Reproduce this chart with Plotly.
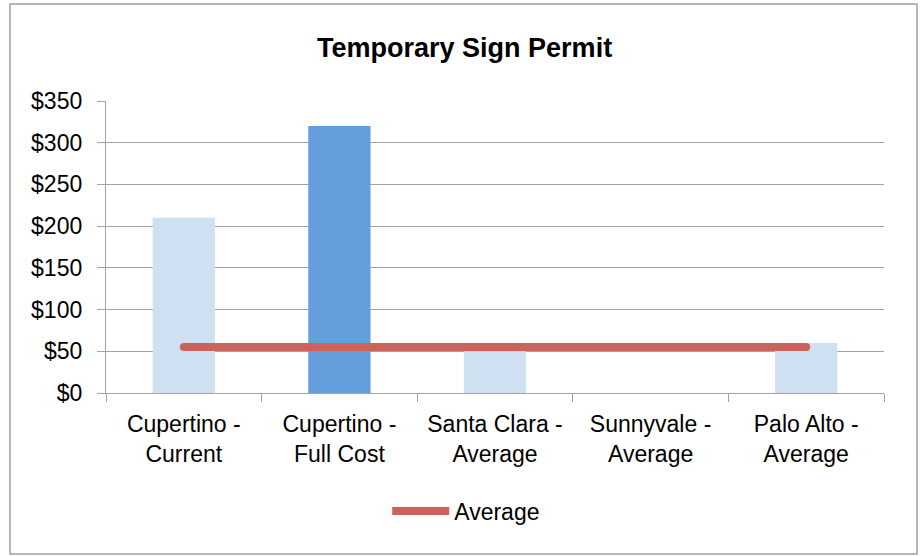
import plotly.graph_objects as go

# permit fees by jurisdiction
categories = [
    "Cupertino -<br>Current",
    "Cupertino -<br>Full Cost",
    "Santa Clara -<br>Average",
    "Sunnyvale -<br>Average",
    "Palo Alto -<br>Average",
]
fees = [210, 320, 50, 0, 60]
average = [55, 55, 55, 55, 55]
bar_colors = ["#CFE0F2", "#629FDC", "#CFE0F2", "#CFE0F2", "#CFE0F2"]

FONT = "Arial, Liberation Sans, sans-serif"
GRID = "#A3A3A3"

fig = go.Figure()

fig.add_trace(go.Bar(
    x=categories, y=fees, marker=dict(color=bar_colors, line=dict(width=0)),
    width=0.4, showlegend=False, hoverinfo="x+y",
))

fig.add_trace(go.Scatter(
    x=categories, y=average, mode="lines", name="Average",
    line=dict(color="#CD625A", width=8),
))

# round caps at both ends of the average line
fig.add_trace(go.Scatter(
    x=[categories[0], categories[-1]], y=[average[0], average[-1]],
    mode="markers", marker=dict(color="#CD625A", size=8),
    showlegend=False, hoverinfo="skip",
))

fig.update_layout(
    width=920, height=556,
    margin=dict(l=106, r=36, t=101, b=163),
    paper_bgcolor="white", plot_bgcolor="white",
    font=dict(family=FONT, size=23, color="black"),
    title=dict(text="<b>Temporary Sign Permit</b>", x=0.505, xanchor="center",
               y=1 - 48 / 556, yanchor="middle", yref="container",
               font=dict(size=27, family=FONT, color="black")),
    showlegend=True,
    legend=dict(orientation="h", x=0.463, xanchor="center", y=-0.404,
                yanchor="middle", itemwidth=57, font=dict(size=23),
                bgcolor="rgba(0,0,0,0)"),
    shapes=[dict(type="rect", xref="paper", yref="paper",
                 x0=-0.1234, x1=1.0424, y0=-0.551, y1=1.332,
                 line=dict(color="#A0A0A0", width=1.5), fillcolor="rgba(0,0,0,0)",
                 layer="below")],
)

fig.update_xaxes(
    type="category", showline=True, linecolor=GRID, linewidth=1.3,
    ticks="outside", tickson="boundaries", ticklen=8, tickcolor=GRID, tickwidth=1.3,
    showgrid=False, tickfont=dict(size=23), ticklabelstandoff=10,
)
fig.update_yaxes(
    range=[0, 350], dtick=50, tickprefix="$", showline=True, linecolor=GRID,
    linewidth=1.3, ticks="outside", ticklen=8, tickcolor=GRID, tickwidth=1.3,
    showgrid=True, gridcolor=GRID, gridwidth=1.3, zeroline=False,
    tickfont=dict(size=23), ticklabelstandoff=10,
)

fig.write_html("out.html", config={"displayModeBar": False},
               post_script="document.body.style.margin='0';")
